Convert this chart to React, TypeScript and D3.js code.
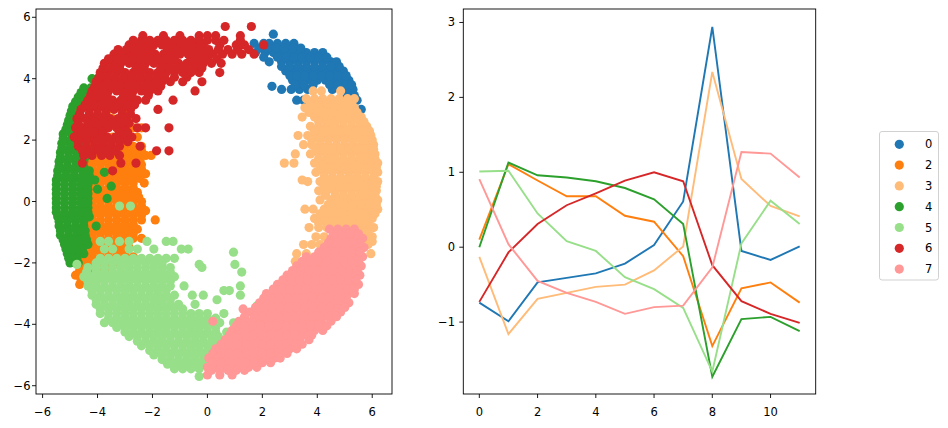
import * as d3 from "d3";

// scatter clusters, one row = [y, x, x, ...]
const blueRows = [
  [5.45, 2.4],
  [5.15, 1.7, 2.05, 2.25, 2.55, 2.85, 3.15],
  [4.85, 1.75, 2.1, 2.4, 2.7, 3.0, 3.3, 3.6, 3.9, 4.2],
  [4.55, 2.25, 2.7, 3.0, 3.3, 3.6, 3.9, 4.2, 4.5, 4.7],
  [4.25, 2.85, 3.15, 3.45, 3.75, 4.05, 4.35, 4.65, 4.95],
  [3.95, 3.1, 3.4, 3.7, 4.0, 4.3, 4.6, 4.9, 5.15],
  [3.75, 2.35],
  [3.65, 2.7, 3.05, 3.35, 3.65, 4.55, 4.85, 5.15, 5.3],
  [3.3, 3.25, 3.5, 4.95, 5.25, 5.45],
  [3.0, 5.4, 5.6],
  [2.75, 5.55],
  [2.5, 5.7],
];
const blueFill = [
  [5.0, 1.9, 2.2, 2.5, 2.8, 3.1, 3.4],
  [4.7, 2.05, 2.55, 2.85, 3.15, 3.45, 3.75, 4.05, 4.35],
  [4.4, 2.7, 3.0, 3.3, 3.6, 3.9, 4.2, 4.5, 4.8],
  [4.1, 3.0, 3.25, 3.55, 3.85, 4.15, 4.45, 4.75, 5.05],
  [3.8, 3.2, 3.5, 3.85, 4.45, 4.75, 5.05, 5.25],
  [3.45, 5.1, 5.35],
];

const orangeRows = [
  [3.0, -3.6, -3.0],
  [2.7, -3.45, -2.85],
  [2.4, -3.9, -3.3, -2.7, -2.4],
  [2.1, -4.05, -3.45, -2.85, -2.55],
  [1.8, -4.2, -3.9, -3.6, -3.3, -3.0, -2.7, -2.4],
  [1.5, -4.35, -4.05, -3.75, -3.45, -3.15, -2.85, -2.55, -2.25, -2.05],
  [1.2, -4.2, -3.9, -3.6, -3.3, -3.0, -2.7, -2.4],
  [0.9, -4.35, -4.05, -3.75, -3.45, -3.15, -2.85, -2.55, -2.25],
  [0.6, -4.2, -3.9, -3.6, -3.3, -3.0, -2.7, -2.3],
  [0.3, -4.35, -4.05, -3.75, -3.45, -3.15, -2.85, -2.55],
  [0.0, -4.2, -3.9, -3.6, -3.3, -3.0, -2.7, -2.4],
  [-0.3, -4.35, -4.05, -3.75, -3.45, -3.15, -2.85, -2.55, -2.25],
  [-0.6, -4.5, -4.2, -3.9, -3.6, -3.3, -3.0, -2.7, -2.4, -1.9],
  [-0.9, -4.65, -4.35, -4.05, -3.75, -3.45, -3.15, -2.85, -2.55],
  [-1.2, -4.5, -4.2, -3.9, -3.6, -3.3, -3.0, -2.7, -2.4],
  [-1.5, -4.65, -4.35, -4.05, -3.75, -3.45, -3.15, -2.85],
  [-1.8, -4.5, -4.2, -3.9, -3.6, -3.3, -3.0, -2.7],
  [-2.1, -4.65, -4.35, -4.05, -3.75, -3.45, -3.15],
  [-2.4, -4.8, -4.5, -4.2, -3.9, -3.6],
  [-2.7, -4.65, -4.35],
];
const orangeFill = [
  [1.65, -4.2, -3.9, -3.6, -3.3, -3.0, -2.7, -2.4],
  [1.35, -4.25, -3.95, -3.65, -3.35, -3.05, -2.75, -2.45],
  [1.05, -4.2, -3.9, -3.6, -3.3, -3.0, -2.7, -2.4],
  [0.75, -4.25, -3.95, -3.65, -3.35, -3.05, -2.75, -2.45],
  [0.45, -4.2, -3.9, -3.6, -3.3, -3.0, -2.7],
  [0.15, -4.25, -3.95, -3.65, -3.35, -3.05, -2.75, -2.5],
  [-0.15, -4.2, -3.9, -3.6, -3.3, -3.0, -2.7, -2.4],
  [-0.45, -4.2, -3.9, -3.6, -3.3, -3.0, -2.7, -2.4],
  [-0.75, -4.5, -4.2, -3.9, -3.6, -3.3, -3.0, -2.7],
  [-1.05, -4.5, -4.2, -3.9, -3.6, -3.3, -3.0, -2.7],
  [-1.35, -4.5, -4.2, -3.9, -3.6, -3.3, -3.0],
  [-1.65, -4.5, -4.2, -3.9, -3.6, -3.3, -3.0],
  [-1.95, -4.5, -4.2, -3.9, -3.6, -3.3],
  [-2.25, -4.65, -4.35, -4.05, -3.75],
  [-2.55, -4.6, -4.3, -4.0],
];

const lightOrangeRows = [
  [3.6, 3.85, 4.15, 4.85],
  [3.35, 3.6, 3.9, 4.2, 4.5, 4.8, 5.1, 5.35],
  [3.05, 3.55, 3.85, 4.15, 4.45, 4.75, 5.05, 5.35],
  [2.75, 3.45, 3.9, 4.2, 4.5, 4.8, 5.1, 5.4, 5.6],
  [2.45, 3.75, 4.05, 4.35, 4.65, 4.95, 5.25, 5.55, 5.8],
  [2.15, 3.3, 3.65, 3.95, 4.25, 4.55, 4.85, 5.15, 5.45, 5.75, 5.95],
  [1.85, 3.5, 3.8, 4.1, 4.4, 4.7, 5.0, 5.3, 5.6, 5.9, 6.05],
  [1.55, 3.2, 3.75, 4.05, 4.35, 4.65, 4.95, 5.25, 5.55, 5.85, 6.1],
  [1.25, 2.8, 3.15, 3.9, 4.2, 4.5, 4.8, 5.1, 5.4, 5.7, 6.0, 6.2],
  [0.95, 3.95, 4.25, 4.55, 4.85, 5.15, 5.45, 5.75, 6.05, 6.2],
  [0.7, 3.45],
  [0.65, 3.65, 4.1, 4.4, 4.7, 5.0, 5.3, 5.6, 5.9, 6.2],
  [0.35, 4.05, 4.35, 4.65, 4.95, 5.25, 5.55, 5.85, 6.15],
  [0.05, 4.1, 4.5, 4.8, 5.1, 5.4, 5.7, 6.0, 6.2],
  [-0.25, 3.55, 3.85, 4.25, 4.55, 4.85, 5.15, 5.45, 5.75, 6.05, 6.2],
  [-0.55, 3.9, 4.2, 4.5, 4.8, 5.1, 5.4, 5.7, 6.0],
  [-0.85, 3.7, 4.05, 4.35, 4.65, 4.95, 5.25, 5.55, 5.85, 6.05],
  [-1.15, 3.95, 4.25, 5.7, 6.0],
  [-1.4, 3.5, 3.8, 4.1, 5.85],
  [-1.7, 3.25, 3.6, 5.95],
  [-1.95, 3.2],
];
const lightOrangeFill = [
  [3.2, 3.75, 4.05, 4.35, 4.65, 4.95, 5.25],
  [2.9, 3.7, 4.0, 4.3, 4.6, 4.9, 5.2, 5.45],
  [2.6, 4.05, 4.35, 4.65, 4.95, 5.25, 5.55, 5.7],
  [2.3, 3.9, 4.2, 4.5, 4.8, 5.1, 5.4, 5.65, 5.9],
  [2.0, 3.8, 4.1, 4.4, 4.7, 5.0, 5.3, 5.6, 5.85, 6.0],
  [1.7, 3.95, 4.25, 4.55, 4.85, 5.15, 5.45, 5.75, 6.05],
  [1.4, 4.05, 4.35, 4.65, 4.95, 5.25, 5.55, 5.85, 6.1],
  [1.1, 4.1, 4.4, 4.7, 5.0, 5.3, 5.6, 5.9, 6.15],
  [0.8, 4.25, 4.55, 4.85, 5.15, 5.45, 5.75, 6.05],
  [0.5, 4.25, 4.5, 4.8, 5.1, 5.4, 5.7, 6.0, 6.15],
  [0.2, 4.3, 4.65, 4.95, 5.25, 5.55, 5.85, 6.1],
  [-0.1, 4.4, 4.7, 5.0, 5.3, 5.6, 5.9, 6.15],
  [-0.4, 4.1, 4.35, 4.65, 4.95, 5.25, 5.55, 5.85, 6.1],
  [-0.7, 4.05, 4.35, 4.65, 4.95, 5.25, 5.55, 5.85],
  [-1.0, 5.55, 5.85],
  [-1.3, 5.8, 6.0],
];

const greenRows = [
  [4.0, -4.2],
  [3.7, -4.5, -4.25],
  [3.4, -4.7, -4.45],
  [3.1, -4.9, -4.6],
  [2.8, -5.0, -4.7],
  [2.5, -5.1, -4.8],
  [2.2, -5.25, -4.95, -4.65],
  [1.9, -5.3, -5.0, -4.7],
  [1.6, -5.35, -5.05, -4.75, -4.45],
  [1.3, -5.4, -5.1, -4.8, -4.5],
  [1.0, -5.45, -5.15, -4.85, -4.55, -4.3],
  [0.95, -3.75],
  [0.7, -5.5, -5.2, -4.9, -4.6, -4.35, -4.1],
  [0.5, -3.5],
  [0.4, -5.5, -5.2, -4.9, -4.6, -4.35, -4.0],
  [0.1, -5.5, -5.2, -4.9, -4.6, -4.35, -3.65],
  [-0.2, -5.5, -5.2, -4.9, -4.6, -4.35],
  [-0.5, -5.45, -5.15, -4.85, -4.55, -4.3],
  [-0.8, -5.4, -5.1, -4.8, -4.5, -4.05],
  [-1.1, -5.35, -5.05, -4.75, -4.45],
  [-1.4, -5.2, -4.9, -4.6, -4.35],
  [-1.7, -5.1, -4.8, -4.5],
  [-2.0, -5.0, -4.7],
];
const greenFill = [
  [3.55, -4.6, -4.35],
  [3.25, -4.8, -4.5],
  [2.95, -4.95, -4.65],
  [2.65, -5.05, -4.75],
  [2.35, -5.15, -4.85],
  [2.05, -5.25, -4.95, -4.65],
  [1.75, -5.3, -5.0, -4.7, -4.45],
  [1.45, -5.35, -5.05, -4.75, -4.45],
  [1.15, -5.4, -5.1, -4.8, -4.5],
  [0.85, -5.45, -5.15, -4.85, -4.55, -4.3],
  [0.55, -5.5, -5.2, -4.9, -4.6, -4.35],
  [0.25, -5.5, -5.2, -4.9, -4.6, -4.35],
  [-0.05, -5.5, -5.2, -4.9, -4.6, -4.35],
  [-0.35, -5.5, -5.2, -4.9, -4.6, -4.35],
  [-0.65, -5.4, -5.1, -4.8, -4.5],
  [-0.95, -5.35, -5.05, -4.75, -4.45],
  [-1.25, -5.25, -4.95, -4.65, -4.4],
  [-1.55, -5.15, -4.85, -4.55],
  [-1.85, -5.05, -4.75],
];

const lightGreenRows = [
  [-0.15, -3.2, -2.8],
  [-1.3, -3.9, -3.6, -3.2, -2.85, -2.2, -1.5, -1.25],
  [-1.55, -3.75, -3.45, -2.85, -2.55, -1.95, -0.95, -0.7],
  [-1.65, 0.95],
  [-1.85, -3.9, -3.6, -3.3, -3.0, -2.7, -2.4, -2.1, -1.8, -1.5, -1.2],
  [-2.05, -4.75, -0.3, 1.0],
  [-2.15, -4.35, -4.05, -3.75, -3.45, -3.15, -2.85, -2.55, -2.25, -1.95, -1.65, -1.35, -0.2],
  [-2.3, 1.25],
  [-2.45, -4.5, -4.2, -3.9, -3.6, -3.3, -3.0, -2.7, -2.4, -2.1, -1.8, -1.5, -1.2],
  [-2.75, -4.35, -4.05, -3.75, -3.45, -3.15, -2.85, -2.55, -2.25, -1.95, -1.65, -1.35, -0.85, 1.2],
  [-2.9, 0.6, 0.8],
  [-3.05, -4.2, -3.9, -3.6, -3.3, -3.0, -2.7, -2.4, -2.1, -1.8, -1.5, -1.2, -0.55, -0.15, 1.2],
  [-3.2, 0.35],
  [-3.35, -4.05, -3.75, -3.45, -3.15, -2.85, -2.55, -2.25, -1.95, -1.65, -1.35, -1.05, -0.45],
  [-3.4, 1.8],
  [-3.65, -3.9, -3.6, -3.3, -3.0, -2.7, -2.4, -2.1, -1.8, -1.5, -1.2, -0.9, -0.6, -0.3, 0.0, 0.6],
  [-3.95, -3.75, -3.45, -3.15, -2.85, -2.55, -2.25, -1.95, -1.65, -1.35, -1.05, -0.75, -0.45, -0.15, 0.15, 0.45, 0.95],
  [-4.25, -3.0, -2.7, -2.4, -2.1, -1.8, -1.5, -1.2, -0.9, -0.6, -0.3, 0.0, 0.3, 0.7],
  [-4.55, -2.55, -2.25, -1.95, -1.65, -1.35, -1.05, -0.75, -0.45, -0.15, 0.15, 0.45],
  [-4.85, -2.1, -1.8, -1.5, -1.2, -0.9, -0.6, -0.3, 0.0],
  [-5.15, -1.65, -1.35, -1.05, -0.75, -0.45, -0.15, 0.15],
  [-5.45, -1.2, -0.9, -0.6, -0.3],
  [-5.7, -0.3],
];
const lightGreenFill = [
  [-2.0, -4.05, -3.75, -3.45, -3.15, -2.85, -2.55, -2.25, -1.95, -1.65],
  [-2.3, -4.4, -4.05, -3.75, -3.45, -3.15, -2.85, -2.55, -2.25, -1.95, -1.65, -1.35],
  [-2.6, -4.35, -4.05, -3.75, -3.45, -3.15, -2.85, -2.55, -2.25, -1.95, -1.65, -1.35],
  [-2.9, -4.2, -3.9, -3.6, -3.3, -3.0, -2.7, -2.4, -2.1, -1.8, -1.5],
  [-3.2, -4.05, -3.75, -3.45, -3.15, -2.85, -2.55, -2.25, -1.95, -1.65, -1.35],
  [-3.5, -3.9, -3.6, -3.3, -3.0, -2.7, -2.4, -2.1, -1.8, -1.5, -1.2, -0.9],
  [-3.8, -3.6, -3.3, -3.0, -2.7, -2.4, -2.1, -1.8, -1.5, -1.2, -0.9, -0.6, -0.3, 0.0, 0.3],
  [-4.1, -3.3, -3.0, -2.7, -2.4, -2.1, -1.8, -1.5, -1.2, -0.9, -0.6, -0.3, 0.0, 0.3],
  [-4.4, -2.85, -2.55, -2.25, -1.95, -1.65, -1.35, -1.05, -0.75, -0.45, -0.15, 0.15, 0.4],
  [-4.7, -2.4, -2.1, -1.8, -1.5, -1.2, -0.9, -0.6, -0.3, 0.0, 0.3],
  [-5.0, -1.95, -1.65, -1.35, -1.05, -0.75, -0.45, -0.15, 0.1],
  [-5.3, -1.45, -1.15, -0.85, -0.55, -0.25, 0.0],
];

const redRows = [
  [5.7, 0.65, 1.6],
  [5.4, -2.35, -1.6, -1.0, -0.3, 0.0, 0.3, 1.2],
  [5.1, -2.85, -2.55, -2.25, -1.95, -1.65, -1.35, -1.05, -0.75, -0.45, -0.15, 0.45, 1.05, 1.35, 2.05],
  [4.8, -3.4, -3.1, -2.8, -2.5, -2.2, -1.9, -1.6, -1.3, -1.0, -0.7, -0.4, -0.1, 0.2, 0.55, 0.9, 1.25, 1.7],
  [4.5, -3.75, -3.45, -3.15, -2.85, -2.55, -2.25, -1.95, -1.65, -1.35, -1.05, -0.75, -0.45, -0.15, 0.15, 0.5],
  [4.2, -3.9, -3.6, -3.3, -3.0, -2.7, -2.4, -2.1, -1.8, -1.5, -1.2, -0.9, -0.6, -0.3, 0.45],
  [3.9, -4.05, -3.75, -3.45, -3.15, -2.85, -2.55, -2.25, -1.95, -1.65, -1.35, -0.9, -0.2],
  [3.6, -4.2, -3.9, -3.6, -3.3, -3.0, -2.7, -2.4, -2.1, -1.8, -0.45],
  [3.3, -4.35, -4.05, -3.75, -3.45, -3.15, -2.85, -2.55, -2.25, -1.25],
  [3.0, -4.6, -4.3, -4.0, -3.7, -3.4, -3.1, -2.8, -1.8],
  [2.7, -4.75, -4.45, -4.15, -3.85, -3.55, -3.25, -2.95, -2.6],
  [2.4, -4.8, -4.5, -4.2, -3.9, -3.6, -3.3, -3.0, -2.55, -2.25, -1.4],
  [2.1, -4.85, -4.55, -4.25, -3.95, -3.65, -3.35, -3.05, -2.75],
  [1.8, -4.7, -4.4, -4.1, -3.8, -3.5, -3.2, -2.45],
  [1.65, -1.85, -1.4],
  [1.5, -4.5, -4.2, -3.85, -3.55, -3.2],
  [1.25, -4.55, -3.15, -2.6],
  [1.0, -3.45],
];
const redFill = [
  [5.25, -2.7, -2.4, -2.1, -1.8, -1.5, -1.2, -0.9, -0.6, -0.3, 0.0, 0.3, 0.6, 1.2],
  [4.95, -3.25, -2.95, -2.65, -2.35, -2.05, -1.45, -1.15, -0.85, -0.55, -0.25, 0.05, 0.4, 0.75, 1.1, 1.5],
  [4.65, -3.6, -3.3, -3.0, -2.7, -2.4, -2.1, -1.8, -1.5, -1.2, -0.6, -0.3, 0.0, 0.35],
  [4.35, -3.8, -3.5, -3.2, -2.6, -2.3, -1.7, -1.4, -1.1, -0.8, -0.5, -0.2],
  [4.05, -3.95, -3.65, -3.35, -3.05, -2.75, -2.45, -2.15, -1.85, -1.55, -1.2, -0.75],
  [3.75, -4.1, -3.8, -3.5, -3.2, -2.9, -2.6, -2.3, -2.0, -1.7],
  [3.45, -4.25, -3.95, -3.65, -3.05, -2.75, -2.15],
  [3.15, -4.45, -4.15, -3.85, -3.55, -3.25, -2.95, -2.65],
  [2.85, -4.65, -4.3, -4.0, -3.7, -3.1, -2.8],
  [2.55, -4.7, -4.35, -4.05, -3.75, -3.45, -3.15, -2.85],
  [2.25, -4.7, -4.4, -4.1, -3.8, -3.2, -2.9],
  [1.95, -4.7, -4.4, -4.1, -3.8, -3.5, -3.2, -2.9],
  [1.65, -4.55, -4.25, -3.95, -3.65, -3.35],
];

const pinkRows = [
  [-0.9, 4.45, 4.75, 5.05, 5.35],
  [-1.2, 4.5, 4.8, 5.1, 5.4, 5.65],
  [-1.5, 4.25, 4.55, 4.85, 5.15, 5.45, 5.7],
  [-1.8, 3.6, 3.9, 4.2, 4.5, 4.8, 5.1, 5.4, 5.65],
  [-2.1, 3.25, 3.55, 3.85, 4.15, 4.45, 4.75, 5.05, 5.35, 5.6],
  [-2.4, 2.9, 3.2, 3.5, 3.8, 4.1, 4.4, 4.7, 5.0, 5.3, 5.55],
  [-2.7, 2.55, 2.85, 3.15, 3.45, 3.75, 4.05, 4.35, 4.65, 4.95, 5.25, 5.5],
  [-3.0, 2.15, 2.45, 2.75, 3.05, 3.35, 3.65, 3.95, 4.25, 4.55, 4.85, 5.15, 5.35],
  [-3.3, 1.9, 2.2, 2.5, 2.8, 3.1, 3.4, 3.7, 4.0, 4.3, 4.6, 4.9, 5.15],
  [-3.5, 1.3],
  [-3.6, 1.55, 1.85, 2.15, 2.45, 2.75, 3.05, 3.35, 3.65, 3.95, 4.25, 4.55, 4.85],
  [-3.9, 0.2, 1.15, 1.45, 1.75, 2.05, 2.35, 2.65, 2.95, 3.25, 3.55, 3.85, 4.15, 4.5],
  [-4.2, 0.9, 1.2, 1.5, 1.8, 2.1, 2.4, 2.7, 3.0, 3.3, 3.6, 3.9, 4.2],
  [-4.5, 0.65, 0.95, 1.25, 1.55, 1.85, 2.15, 2.45, 2.75, 3.05, 3.35, 3.7],
  [-4.8, 0.3, 0.6, 0.9, 1.2, 1.5, 1.8, 2.1, 2.4, 2.7, 3.0, 3.25],
  [-5.1, 0.05, 0.35, 0.65, 0.95, 1.25, 1.55, 1.85, 2.15, 2.45, 2.65],
  [-5.4, 0.0, 0.3, 0.6, 0.9, 1.2, 1.5, 1.8],
  [-5.65, 0.0, 0.45, 0.9],
];
const pinkFill = [
  [-1.05, 4.6, 4.9, 5.2, 5.5],
  [-1.35, 4.4, 4.7, 5.0, 5.3, 5.55],
  [-1.65, 4.05, 4.35, 4.65, 4.95, 5.25, 5.55],
  [-1.95, 3.45, 3.75, 4.05, 4.35, 4.65, 4.95, 5.25, 5.5],
  [-2.25, 3.1, 3.4, 3.7, 4.0, 4.3, 4.6, 4.9, 5.2, 5.45],
  [-2.55, 2.75, 3.05, 3.35, 3.65, 3.95, 4.25, 4.55, 4.85, 5.15, 5.4],
  [-2.85, 2.4, 2.7, 3.0, 3.3, 3.6, 3.9, 4.2, 4.5, 4.8, 5.1, 5.35],
  [-3.15, 2.05, 2.35, 2.65, 2.95, 3.25, 3.55, 3.85, 4.15, 4.45, 4.75, 5.05],
  [-3.45, 1.75, 2.05, 2.35, 2.65, 2.95, 3.25, 3.55, 3.85, 4.15, 4.45, 4.75, 5.0],
  [-3.75, 1.35, 1.7, 2.0, 2.3, 2.6, 2.9, 3.2, 3.5, 3.8, 4.1, 4.4, 4.7],
  [-4.05, 1.05, 1.35, 1.65, 1.95, 2.25, 2.55, 2.85, 3.15, 3.45, 3.75, 4.05, 4.35],
  [-4.35, 0.8, 1.1, 1.4, 1.7, 2.0, 2.3, 2.6, 2.9, 3.2, 3.5, 3.8],
  [-4.65, 0.5, 0.8, 1.1, 1.4, 1.7, 2.0, 2.3, 2.6, 2.9, 3.2, 3.45],
  [-4.95, 0.2, 0.5, 0.8, 1.1, 1.4, 1.7, 2.0, 2.3, 2.6, 2.9],
  [-5.25, 0.2, 0.5, 0.8, 1.1, 1.4, 1.7, 2.0, 2.3],
  [-5.5, 0.15, 0.45, 0.75, 1.05, 1.35],
];

const labels = ["0", "2", "3", "4", "5", "6", "7"];
const colors = ["#1f77b4", "#ff7f0e", "#ffbb78", "#2ca02c", "#98df8a", "#d62728", "#ff9896"];
const clusterRows = [
  [...blueRows, ...blueFill],
  [...orangeRows, ...orangeFill],
  [...lightOrangeRows, ...lightOrangeFill],
  [...greenRows, ...greenFill],
  [...lightGreenRows, ...lightGreenFill],
  [...redRows, ...redFill],
  [...pinkRows, ...pinkFill],
];

// line panel: one value per step 0..11
const steps = [0, 1, 2, 3, 4, 5, 6, 7, 8, 9, 10, 11];
const series0 = [-0.74, -0.99, -0.47, -0.41, -0.35, -0.22, 0.03, 0.61, 2.94, -0.05, -0.17, 0.01];
const series2 = [0.1, 1.11, 0.89, 0.68, 0.68, 0.42, 0.34, -0.12, -1.32, -0.55, -0.47, -0.74];
const series3 = [-0.13, -1.16, -0.69, -0.61, -0.53, -0.5, -0.31, 0.01, 2.34, 0.91, 0.55, 0.41];
const series4 = [0.0, 1.13, 0.96, 0.93, 0.88, 0.79, 0.64, 0.31, -1.73, -0.96, -0.93, -1.12];
const series5 = [1.01, 1.02, 0.45, 0.08, -0.05, -0.4, -0.56, -0.81, -1.66, 0.05, 0.62, 0.31];
const series6 = [-0.73, -0.07, 0.31, 0.56, 0.72, 0.89, 1.0, 0.88, -0.24, -0.72, -0.89, -1.01];
const series7 = [0.91, 0.04, -0.45, -0.61, -0.73, -0.89, -0.8, -0.78, -0.27, 1.27, 1.25, 0.93];
const allSeries = [series0, series2, series3, series4, series5, series6, series7];

const scatterXTicks = [-6, -4, -2, 0, 2, 4, 6];
const scatterYTicks = [-6, -4, -2, 0, 2, 4, 6];
const lineXTicks = [0, 2, 4, 6, 8, 10];
const lineYTicks = [-1, 0, 1, 2, 3];

const W = 948;
const H = 428;
const FONT = "'DejaVu Sans', sans-serif";
const fmt = (v: number) => (v < 0 ? "\u2212" + Math.abs(v) : String(v));

export default function App() {
  const top = 9;
  const bottom = 394;
  const sx = d3.scaleLinear().domain([-6.24, 6.72]).range([36, 392]);
  const sy = d3.scaleLinear().domain([-6.27, 6.27]).range([bottom, top]);
  const lx = d3.scaleLinear().domain([-0.55, 11.55]).range([463.3, 815.7]);
  const ly = d3.scaleLinear().domain([-1.96, 3.18]).range([bottom, top]);

  const line = d3
    .line<number>()
    .x((_, i) => lx(steps[i]))
    .y((d) => ly(d));

  const tick = 4;

  return (
    <svg
      width={W}
      height={H}
      style={{ position: "absolute", left: 0, top: 0, background: "#fff" }}
      fontFamily={FONT}
      fontSize={11.5}
    >
      {/* scatter */}
      <g>
        {clusterRows.map((rows, c) => (
          <g key={c} fill={colors[c]}>
            {rows.flatMap((row, r) =>
              row.slice(1).map((x, k) => (
                <circle key={`${r}-${k}`} cx={sx(x)} cy={sy(row[0])} r={4.6} />
              )),
            )}
          </g>
        ))}
        <rect x={36} y={top} width={356} height={bottom - top} fill="none" stroke="#000" strokeWidth={0.9} />
        {scatterXTicks.map((t) => (
          <g key={t}>
            <line x1={sx(t)} x2={sx(t)} y1={bottom} y2={bottom + tick} stroke="#000" strokeWidth={0.9} />
            <text x={sx(t)} y={416} textAnchor="middle">
              {fmt(t)}
            </text>
          </g>
        ))}
        {scatterYTicks.map((t) => (
          <g key={t}>
            <line x1={36 - tick} x2={36} y1={sy(t)} y2={sy(t)} stroke="#000" strokeWidth={0.9} />
            <text x={30.5} y={sy(t)} textAnchor="end" dominantBaseline="central">
              {fmt(t)}
            </text>
          </g>
        ))}
      </g>

      {/* lines */}
      <g>
        {allSeries.map((s, i) => (
          <path key={i} d={line(s) ?? ""} fill="none" stroke={colors[i]} strokeWidth={1.9} />
        ))}
        <rect x={463.3} y={top} width={352.4} height={bottom - top} fill="none" stroke="#000" strokeWidth={0.9} />
        {lineXTicks.map((t) => (
          <g key={t}>
            <line x1={lx(t)} x2={lx(t)} y1={bottom} y2={bottom + tick} stroke="#000" strokeWidth={0.9} />
            <text x={lx(t)} y={416} textAnchor="middle">
              {fmt(t)}
            </text>
          </g>
        ))}
        {lineYTicks.map((t) => (
          <g key={t}>
            <line x1={463.3 - tick} x2={463.3} y1={ly(t)} y2={ly(t)} stroke="#000" strokeWidth={0.9} />
            <text x={455} y={ly(t)} textAnchor="end" dominantBaseline="central">
              {fmt(t)}
            </text>
          </g>
        ))}
      </g>

      {/* legend */}
      <g>
        <rect x={879.5} y={131.5} width={59} height={148.5} rx={2.5} fill="#fff" fillOpacity={0.8} stroke="#cccccc" strokeWidth={0.9} />
        {labels.map((lab, i) => (
          <g key={lab}>
            <circle cx={899.3} cy={144.3 + i * 20.8} r={4.6} fill={colors[i]} />
            <text x={925} y={144.3 + i * 20.8} dominantBaseline="central">
              {lab}
            </text>
          </g>
        ))}
      </g>
    </svg>
  );
}
